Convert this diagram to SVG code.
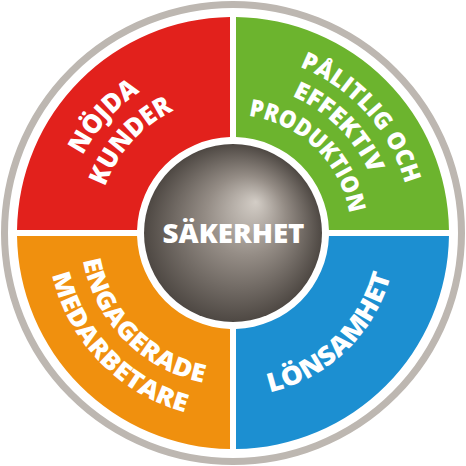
<svg xmlns="http://www.w3.org/2000/svg" xmlns:xlink="http://www.w3.org/1999/xlink" width="466" height="466" viewBox="0 0 466 466">
<defs>
<radialGradient id="sphere" gradientUnits="userSpaceOnUse" cx="233" cy="233" r="89" fx="256" fy="202">
<stop offset="0" stop-color="#d3cdc6"/>
<stop offset="0.45" stop-color="#948c85"/>
<stop offset="1" stop-color="#4e4843"/>
</radialGradient>
<path id="p-nojda" d="M 99.83,337.05 A 169 169 0 0 1 322.55,89.69"/>
<path id="p-kunder" d="M 125.83,316.74 A 136 136 0 0 1 305.07,117.67"/>
<path id="p-palitlig" d="M 138.15,81.20 A 179 179 0 0 1 374.05,343.21"/>
<path id="p-effektiv" d="M 147.54,110.94 A 149 149 0 0 1 355.06,318.46"/>
<path id="p-produktion" d="M 163.64,137.54 A 118 118 0 0 1 330.82,298.99"/>
<path id="p-engagerade" d="M 108.85,144.44 A 152.5 152.5 0 0 0 319.38,358.68"/>
<path id="p-medarbetare" d="M 82.93,123.96 A 185.5 185.5 0 0 0 336.73,386.78"/>
<path id="p-lonsamhet" d="M 136.89,365.27 A 163.5 163.5 0 0 0 368.54,141.57"/>
</defs>
<style>
.lbl{font-family:"Open Sans","Liberation Sans",sans-serif;font-weight:800;fill:#ffffff;text-anchor:middle}
</style>
<rect width="466" height="466" fill="#ffffff"/>
<g id="ring">
<circle cx="233" cy="233" r="228.5" fill="none" stroke="#bdb7b1" stroke-width="7"/>
</g>
<g id="nojda-kunder">
<path d="M 17.02,230 A 216 216 0 0 1 230,17.02 L 230,137.05 A 96 96 0 0 0 137.05,230 Z" fill="#e2211c"/>
<text class="lbl" font-size="26"><textPath xlink:href="#p-nojda" href="#p-nojda" startOffset="50%" textLength="87" lengthAdjust="spacingAndGlyphs">NÖJDA</textPath></text>
<text class="lbl" font-size="26"><textPath xlink:href="#p-kunder" href="#p-kunder" startOffset="50%" textLength="105" lengthAdjust="spacingAndGlyphs">KUNDER</textPath></text>
</g>
<g id="palitlig-produktion">
<path d="M 236,17.02 A 216 216 0 0 1 448.98,230 L 328.95,230 A 96 96 0 0 0 236,137.05 Z" fill="#6cb42e"/>
<text class="lbl" font-size="24"><textPath xlink:href="#p-palitlig" href="#p-palitlig" startOffset="50%" textLength="163" lengthAdjust="spacingAndGlyphs">PÅLITLIG OCH</textPath></text>
<text class="lbl" font-size="24"><textPath xlink:href="#p-effektiv" href="#p-effektiv" startOffset="50%" textLength="113" lengthAdjust="spacingAndGlyphs">EFFEKTIV</textPath></text>
<text class="lbl" font-size="24"><textPath xlink:href="#p-produktion" href="#p-produktion" startOffset="50%" textLength="150" lengthAdjust="spacingAndGlyphs">PRODUKTION</textPath></text>
</g>
<g id="lonsamhet">
<path d="M 448.98,236 A 216 216 0 0 1 236,448.98 L 236,328.95 A 96 96 0 0 0 328.95,236 Z" fill="#1c8fd1"/>
<text class="lbl" font-size="26"><textPath xlink:href="#p-lonsamhet" href="#p-lonsamhet" startOffset="50%" textLength="177" lengthAdjust="spacingAndGlyphs">LÖNSAMHET</textPath></text>
</g>
<g id="engagerade-medarbetare">
<path d="M 230,448.98 A 216 216 0 0 1 17.02,236 L 137.05,236 A 96 96 0 0 0 230,328.95 Z" fill="#f0900e"/>
<text class="lbl" font-size="25"><textPath xlink:href="#p-engagerade" href="#p-engagerade" startOffset="50%" textLength="182" lengthAdjust="spacingAndGlyphs">ENGAGERADE</textPath></text>
<text class="lbl" font-size="25"><textPath xlink:href="#p-medarbetare" href="#p-medarbetare" startOffset="50%" textLength="201" lengthAdjust="spacingAndGlyphs">MEDARBETARE</textPath></text>
</g>
<g id="sakerhet">
<circle cx="233" cy="233" r="89" fill="url(#sphere)"/>
<text class="lbl" x="233.5" y="243" font-size="27" textLength="142" lengthAdjust="spacingAndGlyphs">SÄKERHET</text>
</g>
</svg>
